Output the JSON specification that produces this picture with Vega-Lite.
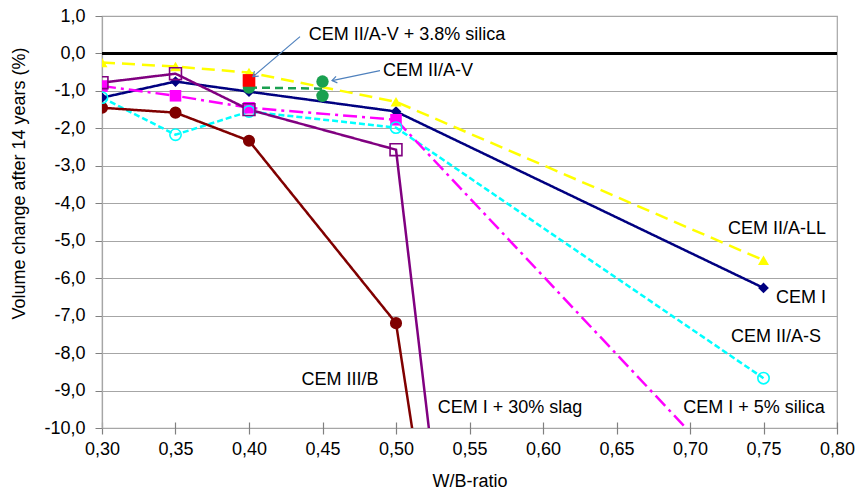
{
  "$schema": "https://vega.github.io/schema/vega-lite/v6.json",
  "width": 735,
  "height": 412,
  "autosize": {"type": "none"},
  "padding": {"left": 102, "top": 16, "right": 18, "bottom": 69},
  "background": "white",
  "config": {
    "font": "Liberation Sans",
    "view": {"stroke": "#a6a6a6", "strokeWidth": 1.2},
    "axis": {
      "labelFont": "Liberation Sans",
      "titleFont": "Liberation Sans",
      "labelColor": "#000000",
      "titleColor": "#000000",
      "labelFontSize": 18,
      "titleFontSize": 18,
      "titleFontWeight": "normal",
      "labelFlush": false,
      "labelOverlap": false,
      "domainColor": "#a6a6a6",
      "tickColor": "#808080",
      "gridColor": "#a6a6a6",
      "gridWidth": 1.2
    }
  },
  "datasets": {
    "series": [
      {"mix": "CEM I", "wb": 0.30, "dv": -1.18},
      {"mix": "CEM I", "wb": 0.35, "dv": -0.75},
      {"mix": "CEM I", "wb": 0.40, "dv": -1.02},
      {"mix": "CEM I", "wb": 0.50, "dv": -1.55},
      {"mix": "CEM I", "wb": 0.75, "dv": -6.26},
      {"mix": "CEM II/A-LL", "wb": 0.30, "dv": -0.24},
      {"mix": "CEM II/A-LL", "wb": 0.35, "dv": -0.35},
      {"mix": "CEM II/A-LL", "wb": 0.40, "dv": -0.51},
      {"mix": "CEM II/A-LL", "wb": 0.50, "dv": -1.29},
      {"mix": "CEM II/A-LL", "wb": 0.75, "dv": -5.52},
      {"mix": "CEM II/A-S", "wb": 0.30, "dv": -1.18},
      {"mix": "CEM II/A-S", "wb": 0.35, "dv": -2.17},
      {"mix": "CEM II/A-S", "wb": 0.40, "dv": -1.55},
      {"mix": "CEM II/A-S", "wb": 0.50, "dv": -1.98},
      {"mix": "CEM II/A-S", "wb": 0.75, "dv": -8.67},
      {"mix": "CEM I + 5% silica", "wb": 0.30, "dv": -0.87},
      {"mix": "CEM I + 5% silica", "wb": 0.35, "dv": -1.13},
      {"mix": "CEM I + 5% silica", "wb": 0.40, "dv": -1.45},
      {"mix": "CEM I + 5% silica", "wb": 0.50, "dv": -1.77},
      {"mix": "CEM I + 5% silica", "wb": 0.75, "dv": -12.2},
      {"mix": "CEM I + 30% slag", "wb": 0.30, "dv": -0.78},
      {"mix": "CEM I + 30% slag", "wb": 0.35, "dv": -0.54},
      {"mix": "CEM I + 30% slag", "wb": 0.40, "dv": -1.50},
      {"mix": "CEM I + 30% slag", "wb": 0.50, "dv": -2.57},
      {"mix": "CEM I + 30% slag", "wb": 0.55, "dv": -19.2},
      {"mix": "CEM III/B", "wb": 0.30, "dv": -1.45},
      {"mix": "CEM III/B", "wb": 0.35, "dv": -1.58},
      {"mix": "CEM III/B", "wb": 0.40, "dv": -2.33},
      {"mix": "CEM III/B", "wb": 0.50, "dv": -7.20},
      {"mix": "CEM III/B", "wb": 0.55, "dv": -20.0},
      {"mix": "CEM II/A-V", "wb": 0.40, "dv": -0.91},
      {"mix": "CEM II/A-V", "wb": 0.45, "dv": -0.75},
      {"mix": "CEM II/A-V", "wb": 0.45, "dv": -1.13},
      {"mix": "CEM II/A-V + 3.8% silica", "wb": 0.40, "dv": -0.72}
    ],
    "labels": [
      {"text": "CEM II/A-LL", "wb": 0.7592, "dv": -4.68},
      {"text": "CEM I", "wb": 0.7755, "dv": -6.53},
      {"text": "CEM II/A-S", "wb": 0.7585, "dv": -7.57},
      {"text": "CEM I + 5% silica", "wb": 0.7435, "dv": -9.47},
      {"text": "CEM III/B", "wb": 0.4619, "dv": -8.72},
      {"text": "CEM I + 30% slag", "wb": 0.5776, "dv": -9.47},
      {"text": "CEM II/A-V + 3.8% silica", "wb": 0.5075, "dv": 0.50},
      {"text": "CEM II/A-V", "wb": 0.5218, "dv": -0.46}
    ],
    "arrows": [
      {"target": "silica", "wb": 0.4347, "dv": 0.45, "wb2": 0.4027, "dv2": -0.62},
      {"target": "flyash", "wb": 0.4891, "dv": -0.46, "wb2": 0.4565, "dv2": -0.725}
    ]
  },
  "encoding": {
    "x": {
      "field": "wb",
      "type": "quantitative",
      "scale": {"domain": [0.3, 0.8], "nice": false, "zero": false},
      "axis": {
        "title": "W/B-ratio",
        "values": [0.3, 0.35, 0.4, 0.45, 0.5, 0.55, 0.6, 0.65, 0.7, 0.75, 0.8],
        "labelExpr": "replace(format(datum.value, '.2f'), '.', ',')",
        "grid": false,
        "domain": false,
        "offset": -6,
        "tickSize": 12,
        "tickWidth": 1.2,
        "labelPadding": 6,
        "titleY": 59,
        "titleBaseline": "middle"
      }
    },
    "y": {
      "field": "dv",
      "type": "quantitative",
      "scale": {"domain": [-10, 1], "nice": false, "zero": false},
      "axis": {
        "title": "Volume change after 14 years (%)",
        "values": [-10, -9, -8, -7, -6, -5, -4, -3, -2, -1, 0, 1],
        "labelExpr": "replace(replace(format(datum.value, '.1f'), '.', ','), '\u2212', '-')",
        "grid": true,
        "tickSize": 7,
        "labelPadding": 10,
        "domainWidth": 1.2,
        "titleAngle": -90,
        "titleAlign": "center",
        "titleBaseline": "middle",
        "titleX": -83,
        "titleY": 167
      }
    }
  },
  "layer": [
    {
      "data": {"name": "series"},
      "mark": {"type": "rule", "color": "#000000", "strokeWidth": 2},
      "encoding": {"x": null, "y": {"datum": 0, "type": "quantitative"}}
    },
    {
      "data": {"name": "series"},
      "mark": {"type": "line", "strokeWidth": 2.5, "clip": true},
      "encoding": {
        "y": {"aggregate": "mean", "field": "dv", "type": "quantitative"},
        "color": {
          "field": "mix",
          "type": "nominal",
          "legend": null,
          "scale": {
            "domain": ["CEM I", "CEM II/A-LL", "CEM II/A-S", "CEM I + 5% silica", "CEM I + 30% slag", "CEM III/B", "CEM II/A-V", "CEM II/A-V + 3.8% silica"],
            "range": ["#000080", "#ffff00", "#00ffff", "#ff00ff", "#800080", "#800000", "#1aa050", "#ff0000"]
          }
        },
        "strokeDash": {
          "field": "mix",
          "type": "nominal",
          "legend": null,
          "scale": {
            "domain": ["CEM I", "CEM II/A-LL", "CEM II/A-S", "CEM I + 5% silica", "CEM I + 30% slag", "CEM III/B", "CEM II/A-V", "CEM II/A-V + 3.8% silica"],
            "range": [[1, 0], [13, 7], [6, 3], [14, 5, 3, 5], [1, 0], [1, 0], [8, 5], [1, 0]]
          }
        }
      }
    },
    {
      "data": {"name": "series"},
      "transform": [{"filter": "datum.mix !== 'CEM II/A-S' && datum.mix !== 'CEM I + 30% slag'"}],
      "mark": {"type": "point", "filled": true, "opacity": 1, "clip": true},
      "encoding": {
        "color": {"field": "mix", "type": "nominal", "legend": null},
        "shape": {
          "field": "mix",
          "type": "nominal",
          "legend": null,
          "scale": {
            "domain": ["CEM I", "CEM II/A-LL", "CEM II/A-S", "CEM I + 5% silica", "CEM I + 30% slag", "CEM III/B", "CEM II/A-V", "CEM II/A-V + 3.8% silica"],
            "range": ["diamond", "triangle-up", "circle", "square", "square", "circle", "circle", "square"]
          }
        },
        "size": {
          "field": "mix",
          "type": "nominal",
          "legend": null,
          "scale": {
            "domain": ["CEM I", "CEM II/A-LL", "CEM II/A-S", "CEM I + 5% silica", "CEM I + 30% slag", "CEM III/B", "CEM II/A-V", "CEM II/A-V + 3.8% silica"],
            "range": [115, 160, 100, 105, 110, 120, 115, 110]
          }
        }
      }
    },
    {
      "data": {"name": "series"},
      "transform": [{"filter": "datum.mix === 'CEM II/A-S' || datum.mix === 'CEM I + 30% slag'"}],
      "mark": {"type": "point", "filled": false, "fill": "transparent", "strokeWidth": 1.6, "opacity": 1, "clip": true},
      "encoding": {
        "color": {"field": "mix", "type": "nominal", "legend": null},
        "shape": {"field": "mix", "type": "nominal", "legend": null},
        "size": {"field": "mix", "type": "nominal", "legend": null}
      }
    },
    {
      "data": {"name": "arrows"},
      "mark": {"type": "rule", "color": "#4f81bd", "strokeWidth": 1.2},
      "encoding": {
        "x2": {"field": "wb2"},
        "y2": {"field": "dv2"}
      }
    },
    {
      "data": {"name": "arrows"},
      "transform": [{"filter": "datum.target === 'silica'"}],
      "mark": {"type": "point", "shape": "M -0.7 1 L 0 0 L 0.7 1", "filled": false, "strokeWidth": 1.2, "color": "#4f81bd", "size": 90, "angle": 229.6, "opacity": 1},
      "encoding": {
        "x": {"field": "wb2", "type": "quantitative"},
        "y": {"field": "dv2", "type": "quantitative"}
      }
    },
    {
      "data": {"name": "arrows"},
      "transform": [{"filter": "datum.target === 'flyash'"}],
      "mark": {"type": "point", "shape": "M -0.7 1 L 0 0 L 0.7 1", "filled": false, "strokeWidth": 1.2, "color": "#4f81bd", "size": 90, "angle": 258.2, "opacity": 1},
      "encoding": {
        "x": {"field": "wb2", "type": "quantitative"},
        "y": {"field": "dv2", "type": "quantitative"}
      }
    },
    {
      "data": {"name": "labels"},
      "mark": {"type": "text", "font": "Liberation Sans", "fontSize": 18, "color": "#000000", "align": "center", "baseline": "middle"},
      "encoding": {
        "text": {"field": "text"}
      }
    }
  ]
}
